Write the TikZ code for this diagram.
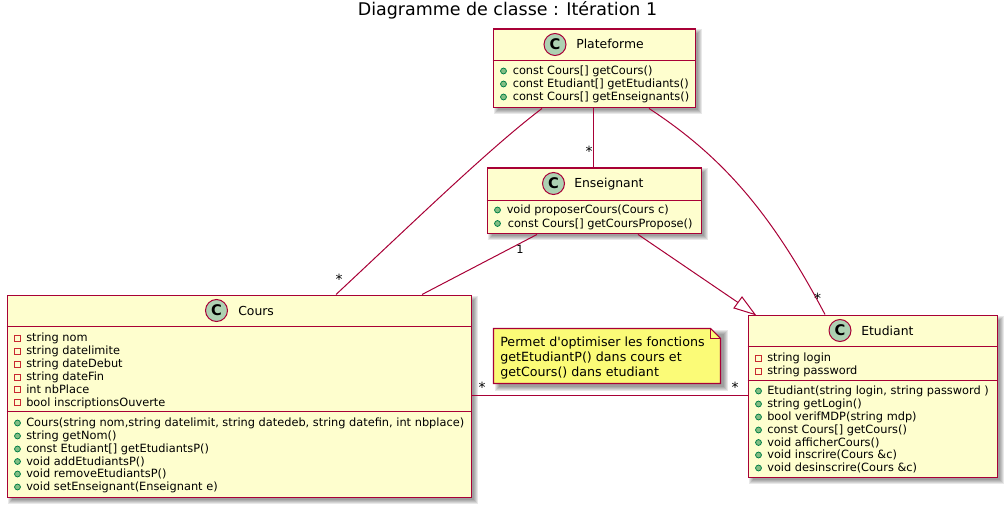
\documentclass[tikz,border=0pt]{standalone}
\usepackage{fontspec}
\setmainfont{DejaVu Sans}
\newfontfamily\notefont{DejaVu Sans}
\usetikzlibrary{calc}
\definecolor{umlborder}{HTML}{A80036}
\definecolor{umlfill}{HTML}{FEFECE}
\definecolor{notefill}{HTML}{FBFB77}
\definecolor{spot}{HTML}{ADD1B2}
\definecolor{pubfill}{HTML}{84BE84}
\definecolor{publine}{HTML}{038048}
\definecolor{privline}{HTML}{C82930}
\newcounter{mcount}
\tikzset{
  x=0.75pt,y=-0.75pt,
  classbox/.style={draw=umlborder,fill=umlfill,line width=1.1pt,inner sep=0pt,anchor=north west},
  edge/.style={draw=umlborder,line width=0.75pt},
  sep/.style={draw=umlborder,line width=0.8pt},
  member/.style={anchor=base west,inner sep=0pt,font=\fontsize{8.52pt}{10pt}\selectfont,text=black},
  cname/.style={anchor=base west,inner sep=0pt,font=\fontsize{9.3pt}{11pt}\selectfont,text=black},
  mult/.style={anchor=center,inner sep=0pt,font=\fontsize{10.5pt}{10pt}\selectfont,text=black},
}
\newcommand{\softshadow}[4]{%
  \foreach \g in {0,1,2,3,4}{
    \fill[black,opacity=0.09] (#1+1+\g,#2+1+\g) rectangle (#3+7-\g,#4+7-\g);
  }}
\newcommand{\umlbox}[5]{% name x1 y1 x2 y2
  \softshadow{#2}{#3}{#4}{#5}
  \node[classbox,minimum width=(#4-#2)*0.75pt,minimum height=(#5-#3)*0.75pt] (#1) at (#2,#3) {};}
\newcommand{\spotc}[3]{% name x y
  \node[circle,draw=umlborder,fill=spot,line width=0.75pt,minimum size=16.5pt,inner sep=0pt,
    font=\fontsize{11pt}{11pt}\bfseries\selectfont] (#1) at (#2,#3) {C};}
\newcommand{\pubm}[4]{% iconx textx ycentre text
  \stepcounter{mcount}
  \fill[fill=pubfill,draw=publine,line width=0.6pt] (#1,#3) circle (2.2pt);
  \node[member] (m\themcount) at (#2,#3+3.5) {#4};}
\newcommand{\privm}[4]{%
  \stepcounter{mcount}
  \draw[draw=privline,line width=0.6pt] (#1-3,#3-3) rectangle (#1+3,#3+3);
  \node[member] (m\themcount) at (#2,#3+3.5) {#4};}
\begin{document}
\begin{tikzpicture}
\useasboundingbox (0,0) rectangle (1006,506);
\node[anchor=center,inner sep=0pt,font=\fontsize{13.1pt}{16pt}\selectfont] (title) at (507.5,10) {Diagramme de classe : Itération 1};

% boxes first with shadows
\umlbox{plat}{492.5}{28.5}{695}{107}
\umlbox{ens}{486.5}{167.5}{701}{233}
\umlbox{cours}{6.5}{294.5}{471}{497}
\umlbox{etu}{747.5}{314.5}{997}{477}

% note
\softshadow{493.5}{328.5}{720.5}{383.5}
\draw[draw=umlborder,fill=notefill,line width=0.8pt] (493.5,328.5) -- (710.5,328.5) -- (720.5,338.5) -- (720.5,383.5) -- (493.5,383.5) -- cycle;
\draw[draw=umlborder,line width=0.8pt] (710.5,328.5) -- (710.5,338.5) -- (720.5,338.5);
\node[anchor=base west,inner sep=0pt,align=left,font=\notefont\fontsize{9.5pt}{11.25pt}\selectfont] (notetext) at (500,376) {Permet d'optimiser les fonctions\\getEtudiantP() dans cours et\\getCours() dans etudiant};

% separators
\draw[sep] (plat.west |- 0,60.5) -- (plat.east |- 0,60.5);
\draw[sep] (ens.west |- 0,200.5) -- (ens.east |- 0,200.5);
\draw[sep] (cours.west |- 0,326.5) -- (cours.east |- 0,326.5);
\draw[sep] (cours.west |- 0,411.5) -- (cours.east |- 0,411.5);
\draw[sep] (etu.west |- 0,346.5) -- (etu.east |- 0,346.5);
\draw[sep] (etu.west |- 0,380.5) -- (etu.east |- 0,380.5);

% connectors
\draw[edge] ($(plat.south west)+(49.5,0)$) .. controls (490,148) and (420,216) .. ($(cours.north west)+(329.5,0)$);
\draw[edge] ($(plat.south west)+(100.5,0)$) -- ($(ens.north west)+(106.5,0)$);
\draw[edge] ($(plat.south west)+(156.5,0)$) .. controls (720,155) and (770,210) .. ($(etu.north west)+(77.5,0)$);
\draw[edge] ($(ens.south west)+(50.5,0)$) -- ($(cours.north west)+(415.5,0)$);
\coordinate (gentip) at ($(etu.north west)+(7.5,0)$);
\coordinate (genc) at (738,302.5);
\draw[edge] ($(ens.south west)+(151.5,0)$) -- (genc);
\draw[edge,fill=white] (gentip) -- (742,297) -- (734,308) -- cycle;
\draw[edge] (cours.east |- 0,395.5) -- (etu.west |- 0,395.5);

% spots and class names
\spotc{platc}{555}{44.5}
\node[cname] (platn) at (576,49) {Plateforme};
\spotc{ensc}{553.5}{183.5}
\node[cname] (ensn) at (574,188) {Enseignant};
\spotc{coursc}{216.5}{310.5}
\node[cname] (coursn) at (238,315) {Cours};
\spotc{etuc}{840}{330.5}
\node[cname] (etun) at (861,335) {Etudiant};

% members
\pubm{503.5}{512.5}{71}{const Cours[] getCours()}
\pubm{503.5}{512.5}{84}{const Etudiant[] getEtudiants()}
\pubm{503.5}{512.5}{97}{const Cours[] getEnseignants()}
\pubm{497.5}{506.5}{210}{void proposerCours(Cours c)}
\pubm{497.5}{507.5}{223.5}{const Cours[] getCoursPropose()}

\privm{17.5}{26}{338}{string nom}
\privm{17.5}{26}{351}{string datelimite}
\privm{17.5}{26}{364}{string dateDebut}
\privm{17.5}{26}{377}{string dateFin}
\privm{17.5}{26}{389.5}{int nbPlace}
\privm{17.5}{26}{402.5}{bool inscriptionsOuverte}
\pubm{17.5}{26}{423}{Cours(string nom,string datelimit, string datedeb, string datefin, int nbplace)}
\pubm{17.5}{26}{436}{string getNom()}
\pubm{17.5}{26}{449}{const Etudiant[] getEtudiantsP()}
\pubm{17.5}{26}{461.5}{void addEtudiantsP()}
\pubm{17.5}{26}{474}{void removeEtudiantsP()}
\pubm{17.5}{26}{487}{void setEnseignant(Enseignant e)}

\privm{758.5}{767}{358}{string login}
\privm{758.5}{767}{371}{string password}
\pubm{758.5}{767}{391}{Etudiant(string login, string password )}
\pubm{758.5}{767}{404}{string getLogin()}
\pubm{758.5}{767}{417}{bool verifMDP(string mdp)}
\pubm{758.5}{767}{430}{const Cours[] getCours()}
\pubm{758.5}{767}{442.5}{void afficherCours()}
\pubm{758.5}{767}{455}{void inscrire(Cours \&c)}
\pubm{758.5}{767}{468}{void desinscrire(Cours \&c)}

% multiplicities
\node[mult] (l1) at (339,279) {*};
\node[mult] (l2) at (589,151) {*};
\node[mult] (l3) at (817.5,298) {*};
\node[mult,font=\fontsize{8.5pt}{10pt}\selectfont] (l4) at (520,249) {1};
\node[mult] (l5) at (482,387) {*};
\node[mult] (l6) at (735,387) {*};
\end{tikzpicture}
\end{document}
